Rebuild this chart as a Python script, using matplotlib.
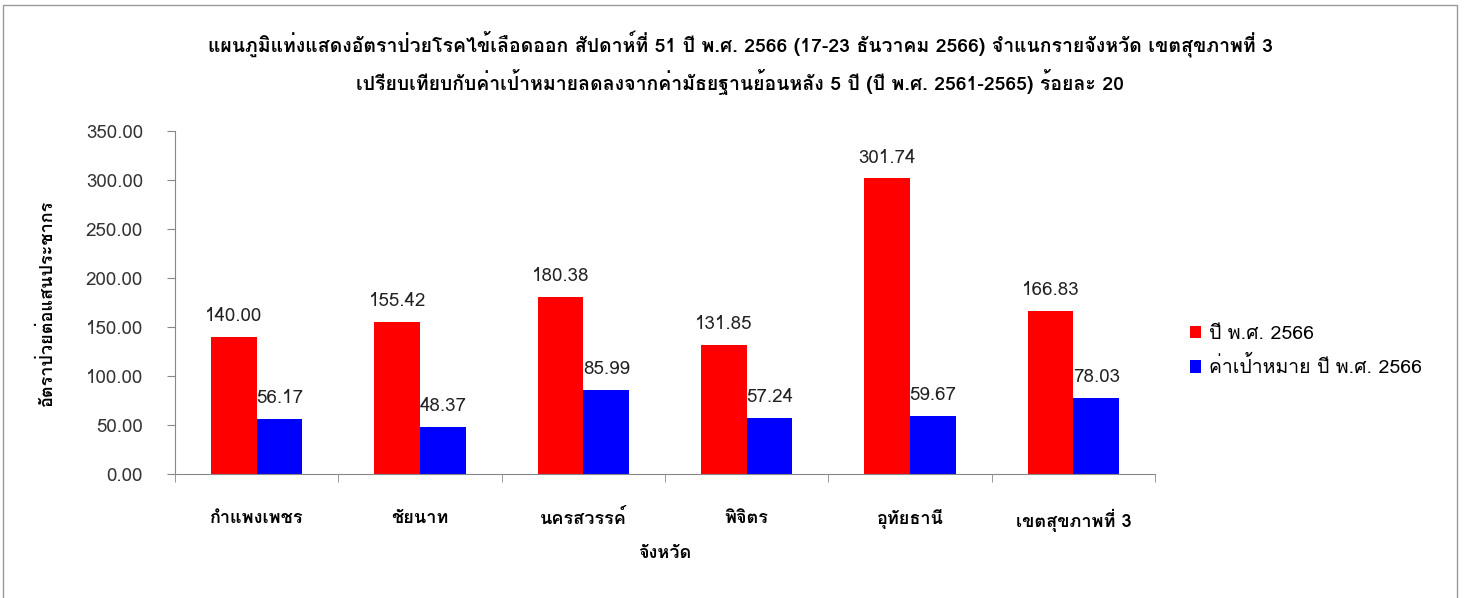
import matplotlib
matplotlib.use("Agg")
import matplotlib.pyplot as plt
from matplotlib import font_manager
import numpy as np

# find fonts with Thai glyphs
thai_fonts = []
try:
    from fontTools.ttLib import TTFont
    seen = set()
    for f in font_manager.fontManager.ttflist:
        if f.name in seen:
            continue
        try:
            tt = TTFont(f.fname, fontNumber=0, lazy=True)
            cmap = tt.getBestCmap()
            if cmap and 0x0E01 in cmap and 0x0E49 in cmap:
                thai_fonts.append(f.name)
                seen.add(f.name)
        except Exception:
            pass
except Exception:
    pass

categories = ["กำแพงเพชร", "ชัยนาท", "นครสวรรค์", "พิจิตร", "อุทัยธานี", "เขตสุขภาพที่ 3"]
rate_2566 = [140.00, 155.42, 180.38, 131.85, 301.74, 166.83]
target_2566 = [56.17, 48.37, 85.99, 57.24, 59.67, 78.03]
series_names = ["ปี พ.ศ. 2566", "ค่าเป้าหมาย ปี พ.ศ. 2566"]
yticks = [0, 50, 100, 150, 200, 250, 300, 350]
title_line1 = "แผนภูมิแท่งแสดงอัตราป่วยโรคไข้เลือดออก สัปดาห์ที่ 51 ปี พ.ศ. 2566 (17-23 ธันวาคม 2566) จำแนกรายจังหวัด เขตสุขภาพที่ 3"
title_line2 = "เปรียบเทียบกับค่าเป้าหมายลดลงจากค่ามัธยฐานย้อนหลัง 5 ปี (ปี พ.ศ. 2561-2565) ร้อยละ 20"
xlabel = "จังหวัด"
ylabel = "อัตราป่วยต่อแสนประชากร"

fam = thai_fonts[:1] + ["DejaVu Sans"]
plt.rcParams['font.family'] = fam

fig = plt.figure(figsize=(14.65, 5.98), dpi=100)
ax = fig.add_axes([175/1465, 1-474/598, (1155-175)/1465, (474-131)/598])

x = np.arange(len(categories))
w = 0.28
b1 = ax.bar(x - w/2, rate_2566, w, color="#ff0000", label=series_names[0])
b2 = ax.bar(x + w/2, target_2566, w, color="#0000ff", label=series_names[1])
for rect, v in zip(b1, rate_2566):
    ax.text(rect.get_x()+rect.get_width()/2, v + 12, f"{v:.2f}", ha="center", va="bottom", fontsize=13.5, color="#222222")
for rect, v in zip(b2, target_2566):
    ax.text(rect.get_x()+rect.get_width()/2, v + 12, f"{v:.2f}", ha="center", va="bottom", fontsize=13.5, color="#222222")

ax.set_xlim(-0.5, len(categories)-0.5)
ax.set_ylim(0, 350)
ax.set_yticks(yticks)
ax.set_yticklabels([f"{t:.2f}" for t in yticks], fontsize=13.5, color="#333333")
ax.set_xticks(x)
ax.set_xticklabels(categories, fontsize=13, fontweight="bold")
ax.set_xticks(np.arange(len(categories)+1)-0.5, minor=True)
ax.tick_params(axis="x", which="major", length=0, pad=25)
ax.tick_params(axis="x", which="minor", length=6, color="#888888")
ax.tick_params(axis="y", length=6, color="#888888", pad=17)
for s in ["top", "right"]:
    ax.spines[s].set_visible(False)
for s in ["left", "bottom"]:
    ax.spines[s].set_color("#888888")
ax.set_xlabel(xlabel, fontsize=13, fontweight="bold", labelpad=9)
ax.set_ylabel(ylabel, fontsize=13, fontweight="bold")
ax.yaxis.set_label_coords((56-175)/980, 0.5)

fig.text(740/1465, 1-44/598, title_line1, ha="center", va="center", fontsize=14, fontweight="bold")
fig.text(740/1465, 1-82/598, title_line2, ha="center", va="center", fontsize=14, fontweight="bold")

fig.legend(handles=[b1, b2], labels=series_names, loc="center left",
           bbox_to_anchor=(1172/1465, 1-351/598), frameon=False, fontsize=14,
           handlelength=0.6, handleheight=0.6, handletextpad=0.4, labelspacing=0.7)

fig.patches.append(plt.Rectangle((3/1465, -0.05), 1454/1465, 1.05-5/598, transform=fig.transFigure,
                                 fill=False, edgecolor="#999999", linewidth=1))
fig.savefig("out.png", dpi=100)
